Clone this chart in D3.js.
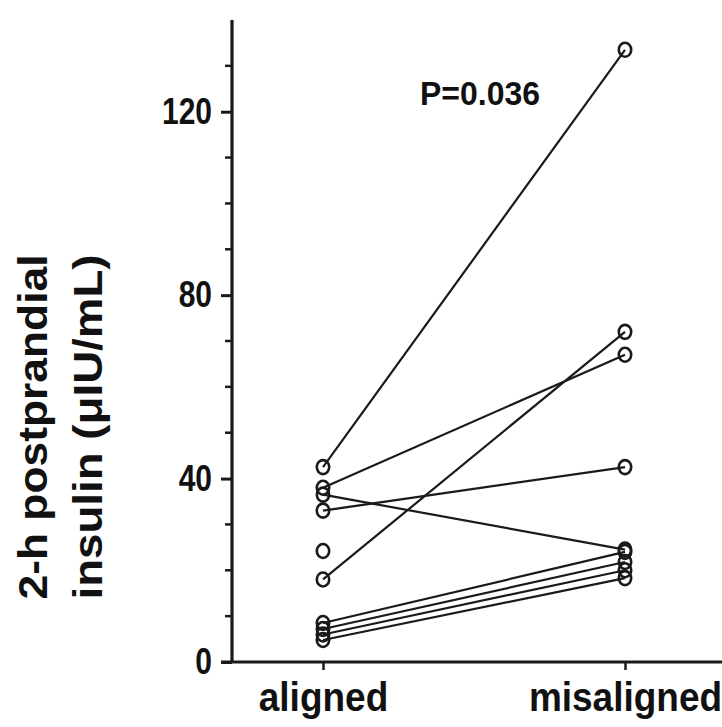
<!DOCTYPE html>
<html>
<head>
<meta charset="utf-8">
<script src="https://cdn.jsdelivr.net/npm/d3@7"></script>
<style>
  html, body { margin: 0; padding: 0; background: #fff; }
  svg { display: block; }
  text { font-family: "Liberation Sans", Arial, Helvetica, sans-serif; font-weight: bold; fill: #111; }
</style>
</head>
<body>
<svg id="chart" width="722" height="727"></svg>
<script>
// Paired 2-h postprandial insulin per participant (μIU/mL)
const conditions = ["aligned", "misaligned"];
const alignedValues    = [42.5, 38.0, 36.5, 33.0, 18.0, 8.5, 7.2, 6.0, 4.8, 24.2];
const misalignedValues = [133.5, 67.0, 24.5, 42.5, 72.0, 24.0, 21.8, 20.0, 18.3, null];
const yTicks = [0, 40, 80, 120];
const yMinorTicks = [10, 20, 30, 50, 60, 70, 90, 100, 110, 130];
const pLabel = "P=0.036";
const yTitle = ["2-h postprandial", "insulin (μIU/mL)"];

const svg = d3.select("#chart");
const x = d3.scalePoint().domain(conditions).range([323, 625]);
const y = d3.scaleLinear().domain([0, 140]).range([662, 20]);
const ink = "#1a1a1a";

// Subject lines
const subjects = alignedValues.map((a, i) => ({ a, m: misalignedValues[i] }));
svg.append("g").selectAll("line")
  .data(subjects.filter(d => d.m != null))
  .join("line")
  .attr("x1", x("aligned")).attr("y1", d => y(d.a))
  .attr("x2", x("misaligned")).attr("y2", d => y(d.m))
  .attr("stroke", ink).attr("stroke-width", 2.2);

// Open circle markers
const pts = [];
subjects.forEach(d => {
  pts.push({ c: "aligned", v: d.a });
  if (d.m != null) pts.push({ c: "misaligned", v: d.m });
});
svg.append("g").selectAll("ellipse")
  .data(pts)
  .join("ellipse")
  .attr("cx", d => x(d.c)).attr("cy", d => y(d.v))
  .attr("rx", 6.2).attr("ry", 7)
  .attr("fill", "none").attr("stroke", ink).attr("stroke-width", 2.6);

// Y axis
const yAxis = svg.append("g").attr("transform", "translate(232,0)")
  .call(d3.axisLeft(y).tickValues(yTicks).tickSize(11).tickPadding(9));
yAxis.select(".domain").remove();
yAxis.append("line").attr("x1", 0).attr("x2", 0).attr("y1", y(140)).attr("y2", y(0) + 1)
  .attr("stroke", ink).attr("stroke-width", 3.2);
yAxis.selectAll(".tick line").attr("stroke", ink).attr("stroke-width", 3);
yAxis.selectAll(".tick text").style("font-size", "30px").attr("fill", "#111")
  .attr("transform", "scale(1,1.2)");
yAxis.append("g").selectAll("line").data(yMinorTicks).join("line")
  .attr("x1", -7).attr("x2", 1).attr("y1", d => y(d)).attr("y2", d => y(d))
  .attr("stroke", ink).attr("stroke-width", 2.5);

// X axis
const xAxis = svg.append("g").attr("transform", `translate(0,${y(0)})`)
  .call(d3.axisBottom(x).tickSize(8).tickPadding(11));
xAxis.select(".domain").remove();
xAxis.append("line").attr("x1", 221).attr("x2", 722).attr("y1", 0).attr("y2", 0)
  .attr("stroke", ink).attr("stroke-width", 3.2);
xAxis.selectAll(".tick line").attr("stroke", ink).attr("stroke-width", 2.5);
xAxis.selectAll(".tick text").style("font-size", "37px").attr("fill", "#111")
  .attr("transform", "scale(1,1.08)");

// Y axis title (two lines)
yTitle.forEach((t, i) => {
  svg.append("text")
    .attr("transform", `translate(${47 + i * 55},427) rotate(-90)`)
    .attr("text-anchor", "middle")
    .attr("textLength", 345).attr("lengthAdjust", "spacingAndGlyphs")
    .style("font-size", "40px")
    .text(t);
});

// Significance annotation
svg.append("text")
  .attr("transform", "translate(420,105) scale(1,1.2)")
  .attr("textLength", 120).attr("lengthAdjust", "spacingAndGlyphs")
  .style("font-size", "27px")
  .text(pLabel);
</script>
</body>
</html>
